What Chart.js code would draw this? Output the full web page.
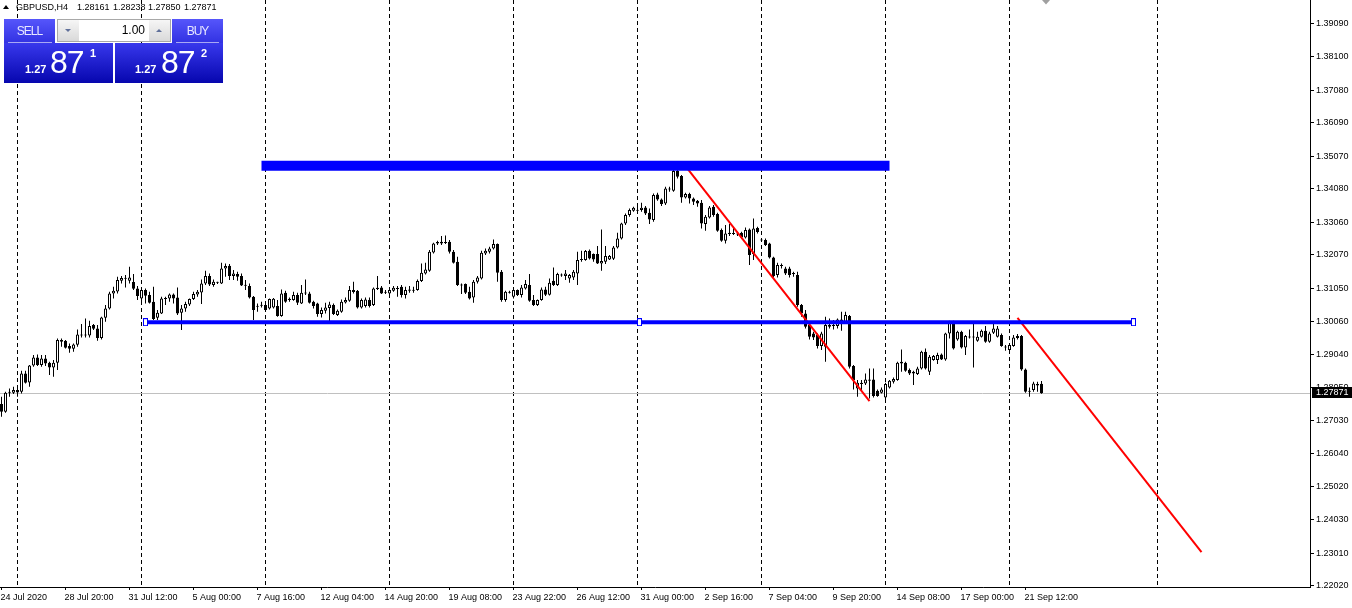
<!DOCTYPE html>
<html>
<head>
<meta charset="utf-8">
<script src="https://cdn.jsdelivr.net/npm/chart.js@4.4.1/dist/chart.umd.min.js"></script>
<style>
html, body { margin: 0; padding: 0; background: #fff; }
#wrap { position: relative; width: 1352px; height: 608px; overflow: hidden; font-family: "Liberation Sans", Arial, sans-serif; }
#c { position: absolute; left: 0; top: 0; }
.t { position: absolute; white-space: pre; line-height: 1; }
.hdr { font-size: 9px; color: #000; top: 3px; }
#tri { position: absolute; left: 3px; top: 5px; width: 0; height: 0; border-left: 3px solid transparent; border-right: 3px solid transparent; border-bottom: 4px solid #000; }
.btn { position: absolute; top: 19px; width: 51px; height: 24px; line-height: 24px; text-align: center; font-size: 12px; letter-spacing: -1px; color: #e8e8ff; background: linear-gradient(#5656fb, #3232e2); }
.sep { position: absolute; top: 42px; height: 1px; background: #a8a8f4; }
.pbox { position: absolute; top: 43px; height: 40px; background: linear-gradient(#3838ec, #0606ae); }
#lot { position: absolute; left: 57px; top: 19px; width: 114px; height: 23px; box-sizing: border-box; border: 1px solid #a8a8a8; background: #fff; }
.spin { position: absolute; top: 0; width: 21px; height: 21px; background: linear-gradient(#f6f6f6, #d9d9d9); }
.dn { position: absolute; left: 7px; top: 9px; width: 0; height: 0; border-left: 3px solid transparent; border-right: 3px solid transparent; border-top: 3px solid #60709a; }
.up { position: absolute; left: 7px; top: 9px; width: 0; height: 0; border-left: 3px solid transparent; border-right: 3px solid transparent; border-bottom: 3px solid #60709a; }
.w { color: #fff; }
.sm { font-size: 11px; font-weight: bold; }
.big { font-size: 32px; letter-spacing: -1px; }
</style>
</head>
<body>
<div id="wrap">
<canvas id="c" width="1352" height="608"></canvas>

<div id="tri"></div>
<span class="t hdr" style="left:16px">GBPUSD,H4</span>
<span class="t hdr" style="left:77px">1.28161</span>
<span class="t hdr" style="left:113px">1.28238</span>
<span class="t hdr" style="left:148px">1.27850</span>
<span class="t hdr" style="left:184px">1.27871</span>

<div class="btn" style="left:4px">SELL</div>
<div class="btn" style="left:172px">BUY</div>
<div id="lot">
  <div class="spin" style="left:0"><div class="dn"></div></div>
  <span class="t" style="right:25px;top:4px;font-size:12px;color:#000">1.00</span>
  <div class="spin" style="right:0"><div class="up"></div></div>
</div>
<div class="sep" style="left:8px;width:44px"></div>
<div class="sep" style="left:176px;width:43px"></div>
<div class="pbox" style="left:4px;width:109px"></div>
<div class="pbox" style="left:115px;width:108px"></div>
<span class="t w sm" style="left:25px;top:64px">1.27</span>
<span class="t w big" style="left:50px;top:46px">87</span>
<span class="t w sm" style="left:90px;top:48px">1</span>
<span class="t w sm" style="left:135px;top:64px">1.27</span>
<span class="t w big" style="left:161px;top:46px">87</span>
<span class="t w sm" style="left:201px;top:48px">2</span>
</div>

<script>
// GBPUSD H4, one entry per bar (bar 0 = 24 Jul 2020)
var opens = [
  1.27539,1.27306,1.27883,1.27883,1.27964,1.27914,1.28471,1.28197,1.28714,1.28957,
  1.28724,1.28927,1.28795,1.28653,1.28795,1.29433,1.29464,1.29302,1.29221,1.29342,
  1.29656,1.29626,1.29626,1.29940,1.29838,1.29545,1.30163,1.30446,1.30902,1.30963,
  1.31287,1.31368,1.31287,1.31247,1.31054,1.30750,1.31003,1.30851,1.30649,1.30163,
  1.30295,1.30750,1.30750,1.30872,1.30780,1.30315,1.30446,1.30568,1.30730,1.30872,
  1.30933,1.31206,1.31429,1.31155,1.31257,1.31206,1.31662,1.31743,1.31429,1.31490,
  1.31429,1.31155,1.31125,1.30801,1.30497,1.30527,1.30547,1.30446,1.30477,1.30517,
  1.30213,1.30923,1.30700,1.30700,1.30852,1.30598,1.30923,1.30902,1.30649,1.30598,
  1.30274,1.30376,1.30457,1.30548,1.30244,1.30345,1.30629,1.30680,1.31004,1.30983,
  1.30477,1.30517,1.30700,1.30548,1.31034,1.31085,1.30953,1.30902,1.30983,1.31064,
  1.31105,1.30852,1.30983,1.31004,1.31004,1.31277,1.31510,1.31591,1.32148,1.32422,
  1.32422,1.32462,1.32473,1.32169,1.31865,1.31176,1.31186,1.30953,1.30781,1.31257,
  1.31358,1.32118,1.32169,1.32270,1.32402,1.31561,1.30700,1.30953,1.30801,1.31004,
  1.30852,1.31055,1.31156,1.30700,1.30548,1.30700,1.31025,1.30862,1.31288,1.31156,
  1.31450,1.31430,1.31359,1.31389,1.31511,1.31916,1.31916,1.32200,1.32098,1.32098,
  1.31815,1.31865,1.31936,1.31957,1.32301,1.32574,1.33030,1.33284,1.33415,1.33436,
  1.33436,1.33517,1.33354,1.33132,1.33911,1.33760,1.33638,1.34064,1.34023,1.34621,
  1.34469,1.33820,1.33922,1.33790,1.33719,1.33658,1.33010,1.33213,1.33537,1.33314,
  1.32828,1.32504,1.32706,1.32726,1.32726,1.32747,1.32604,1.32847,1.32098,1.32888,
  1.32544,1.32523,1.32422,1.31997,1.31460,1.31733,1.31662,1.31662,1.31510,1.31460,
  1.30548,1.30295,1.29940,1.29687,1.29636,1.29302,1.29282,1.29940,1.29910,1.29910,
  1.30113,1.29991,1.30214,1.28694,1.28016,1.28147,1.28167,1.28249,1.28289,1.27945,
  1.27884,1.27742,1.28046,1.28218,1.28269,1.28775,1.28796,1.28573,1.28522,1.28451,
  1.28623,1.29130,1.28522,1.28877,1.28877,1.29049,1.28897,1.29687,1.30042,1.29505,
  1.29738,1.29262,1.29565,1.29586,1.29464,1.29586,1.29768,1.29434,1.29707,1.29586,
  1.29636,1.29282,1.29181,1.29302,1.29545,1.29606,1.28593,1.27914,1.27965,1.28147,
  1.28161
];
var highs = [
  1.27762,1.27914,1.28015,1.28066,1.28116,1.28552,1.28552,1.28724,1.29028,1.29048,
  1.29028,1.29028,1.28825,1.28876,1.29535,1.29535,1.29484,1.29383,1.29383,1.29808,
  1.29970,1.30142,1.30071,1.29970,1.29940,1.30193,1.30547,1.30953,1.31105,1.31409,
  1.31429,1.31459,1.31712,1.31490,1.31125,1.31054,1.31054,1.30953,1.31105,1.30396,
  1.30801,1.30801,1.30902,1.30902,1.31084,1.30547,1.30649,1.30750,1.30953,1.31003,
  1.31328,1.31591,1.31510,1.31328,1.31257,1.31834,1.31814,1.31794,1.31611,1.31561,
  1.31510,1.31307,1.31206,1.30821,1.30598,1.30649,1.30598,1.30750,1.30761,1.30700,
  1.31024,1.30983,1.30781,1.30953,1.30923,1.31156,1.31328,1.30953,1.30680,1.30619,
  1.30477,1.30619,1.30649,1.30598,1.30416,1.30720,1.30781,1.31125,1.31257,1.31004,
  1.30750,1.30781,1.30781,1.31085,1.31429,1.31125,1.31004,1.31054,1.31125,1.31125,
  1.31156,1.31105,1.31125,1.31105,1.31328,1.31814,1.31834,1.32219,1.32442,1.32503,
  1.32645,1.32665,1.32523,1.32219,1.32017,1.31206,1.31206,1.31105,1.31307,1.31429,
  1.32199,1.32270,1.32321,1.32543,1.32422,1.31611,1.30983,1.30983,1.31054,1.31024,
  1.31156,1.31308,1.31491,1.30852,1.30721,1.31085,1.31106,1.31359,1.31693,1.31531,
  1.31511,1.31612,1.31491,1.31612,1.32169,1.32200,1.32220,1.32240,1.32119,1.32342,
  1.32848,1.32342,1.32068,1.32342,1.32747,1.33051,1.33334,1.33486,1.33537,1.33537,
  1.33658,1.33557,1.33486,1.33942,1.33962,1.33790,1.34145,1.34145,1.34671,1.34833,
  1.34499,1.33962,1.33962,1.33820,1.33739,1.33739,1.33284,1.33557,1.33587,1.33354,
  1.32878,1.32980,1.33010,1.32929,1.32777,1.32777,1.32908,1.32878,1.33182,1.32929,
  1.32574,1.32574,1.32442,1.32017,1.31834,1.31814,1.31713,1.31713,1.31561,1.31561,
  1.30578,1.30396,1.29991,1.29738,1.29687,1.29738,1.30194,1.30143,1.30092,1.30143,
  1.30345,1.30345,1.30244,1.28725,1.28269,1.28269,1.28472,1.28623,1.28623,1.27985,
  1.28046,1.28188,1.28269,1.28350,1.28826,1.29201,1.28826,1.28623,1.28553,1.28674,
  1.29160,1.29231,1.29029,1.29029,1.29100,1.29079,1.29707,1.30072,1.30072,1.29768,
  1.29768,1.29636,1.29809,1.29971,1.29738,1.29809,1.29910,1.29738,1.29971,1.29910,
  1.29687,1.29333,1.29383,1.29636,1.29667,1.29636,1.28623,1.28046,1.28218,1.28218,
  1.28238
];
var lows = [
  1.27154,1.27276,1.27762,1.27843,1.27762,1.27863,1.28167,1.28066,1.28674,1.28694,
  1.28674,1.28694,1.28420,1.28370,1.28572,1.29281,1.29231,1.29099,1.29129,1.29281,
  1.29565,1.29565,1.29565,1.29788,1.29464,1.29504,1.30041,1.30416,1.30750,1.30902,
  1.31206,1.31084,1.31206,1.31003,1.30699,1.30649,1.30598,1.30598,1.30092,1.30092,
  1.30274,1.30547,1.30649,1.30598,1.30244,1.29788,1.30345,1.30517,1.30699,1.30801,
  1.30578,1.31155,1.31125,1.31105,1.31186,1.31186,1.31409,1.31307,1.31307,1.31287,
  1.31125,1.31003,1.30750,1.30092,1.30345,1.30477,1.30376,1.30416,1.30446,1.30193,
  1.30193,1.30619,1.30649,1.30680,1.30548,1.30578,1.30852,1.30598,1.30446,1.30193,
  1.30173,1.30294,1.30062,1.30244,1.30213,1.30315,1.30598,1.30649,1.30902,1.30446,
  1.30446,1.30477,1.30477,1.30517,1.31004,1.30882,1.30882,1.30852,1.30953,1.30801,
  1.30781,1.30750,1.30923,1.30923,1.30983,1.31247,1.31480,1.31561,1.32118,1.32371,
  1.32371,1.32402,1.32118,1.31814,1.31125,1.30882,1.30882,1.30720,1.30619,1.31206,
  1.31328,1.32067,1.32118,1.32239,1.31257,1.30649,1.30649,1.30902,1.30750,1.30821,
  1.30781,1.31025,1.30650,1.30518,1.30518,1.30680,1.30822,1.30842,1.31126,1.31126,
  1.31410,1.31308,1.31227,1.31308,1.31156,1.31865,1.31896,1.31936,1.31865,1.31794,
  1.31592,1.31794,1.31916,1.31916,1.32271,1.32544,1.32980,1.33233,1.33385,1.33334,
  1.33385,1.33284,1.33010,1.33081,1.33719,1.33557,1.33587,1.33993,1.33993,1.34398,
  1.33658,1.33790,1.33638,1.33587,1.33537,1.32878,1.32807,1.33182,1.33233,1.32777,
  1.32473,1.32423,1.32645,1.32676,1.32645,1.32564,1.32574,1.31764,1.31916,1.32726,
  1.32473,1.32341,1.31966,1.31389,1.31389,1.31662,1.31460,1.31389,1.31409,1.30497,
  1.30194,1.29839,1.29505,1.29485,1.29231,1.29181,1.28826,1.29839,1.29809,1.29839,
  1.29768,1.29971,1.28623,1.27985,1.27762,1.27914,1.28117,1.27712,1.27742,1.27762,
  1.27864,1.27681,1.28016,1.28167,1.28249,1.28522,1.28522,1.28421,1.28117,1.28421,
  1.28593,1.28593,1.28421,1.28856,1.28755,1.28877,1.28856,1.29535,1.29201,1.29464,
  1.29231,1.29029,1.29535,1.28654,1.29434,1.29565,1.29403,1.29403,1.29667,1.29565,
  1.29282,1.29160,1.29160,1.29282,1.29505,1.28553,1.27884,1.27762,1.27914,1.27914,
  1.27850
];
var closes = [
  1.27306,1.27883,1.27914,1.27964,1.27893,1.28471,1.28187,1.28714,1.28957,1.28724,
  1.28927,1.28775,1.28653,1.28795,1.29484,1.29484,1.29251,1.29221,1.29352,1.29656,
  1.29626,1.29636,1.29909,1.29828,1.29545,1.30173,1.30446,1.30902,1.30983,1.31307,
  1.31368,1.31348,1.31388,1.31044,1.30821,1.31003,1.30831,1.30618,1.30122,1.30315,
  1.30750,1.30730,1.30872,1.30750,1.30295,1.30446,1.30578,1.30730,1.30882,1.30953,
  1.31206,1.31429,1.31176,1.31257,1.31226,1.31662,1.31733,1.31429,1.31510,1.31409,
  1.31145,1.31135,1.30780,1.30396,1.30527,1.30537,1.30396,1.30730,1.30740,1.30213,
  1.30902,1.30649,1.30740,1.30852,1.30619,1.30923,1.30902,1.30619,1.30517,1.30274,
  1.30396,1.30477,1.30568,1.30274,1.30376,1.30649,1.30700,1.31004,1.30943,1.30477,
  1.30700,1.30720,1.30517,1.31054,1.31075,1.30902,1.30923,1.31004,1.31075,1.31034,
  1.30852,1.31004,1.31024,1.30983,1.31277,1.31530,1.31632,1.32169,1.32422,1.32462,
  1.32473,1.32432,1.32169,1.31834,1.31156,1.31145,1.30923,1.30750,1.31257,1.31389,
  1.32138,1.32199,1.32270,1.32402,1.31530,1.30700,1.30953,1.30923,1.31004,1.30852,
  1.31085,1.31187,1.30680,1.30548,1.30700,1.31025,1.30862,1.31227,1.31156,1.31491,
  1.31480,1.31511,1.31460,1.31561,1.31916,1.31936,1.32190,1.31967,1.31936,1.31815,
  1.31886,1.32038,1.32038,1.32301,1.32574,1.33030,1.33284,1.33436,1.33506,1.33415,
  1.33506,1.33334,1.33152,1.33891,1.33760,1.33618,1.34094,1.34094,1.34621,1.34449,
  1.33820,1.33922,1.33790,1.33689,1.33638,1.33030,1.33233,1.33517,1.33284,1.32807,
  1.32504,1.32726,1.32747,1.32706,1.32696,1.32605,1.32827,1.32068,1.32878,1.32766,
  1.32513,1.32371,1.31997,1.31429,1.31764,1.31764,1.31510,1.31460,1.31490,1.30548,
  1.30295,1.29890,1.29586,1.29565,1.29302,1.29687,1.29940,1.29890,1.29940,1.30113,
  1.30042,1.30244,1.28674,1.28269,1.28188,1.28188,1.28289,1.28289,1.27783,1.27783,
  1.27985,1.28147,1.28249,1.28299,1.28796,1.28826,1.28553,1.28471,1.28471,1.28623,
  1.29130,1.28623,1.28978,1.28998,1.29029,1.28897,1.29687,1.30042,1.29231,1.29738,
  1.29262,1.29606,1.29586,1.29565,1.29586,1.29768,1.29434,1.29687,1.29839,1.29839,
  1.29302,1.29262,1.29333,1.29565,1.29606,1.28593,1.27914,1.27935,1.28167,1.28107,
  1.27871
];

// time axis labels (bar index -> text) and dotted grid bars
var labelBars = [0,16,32,48,64,80,96,112,128,144,160,176,192,208,224,240,256];
var labelTexts = ["24 Jul 2020","28 Jul 20:00","31 Jul 12:00","5 Aug 00:00","7 Aug 16:00",
  "12 Aug 04:00","14 Aug 20:00","19 Aug 08:00","23 Aug 22:00","26 Aug 12:00","31 Aug 00:00",
  "2 Sep 16:00","7 Sep 04:00","9 Sep 20:00","14 Sep 08:00","17 Sep 00:00","21 Sep 12:00"];
var gridBars = [4,35,66,97,128,159,190,221,252,289];

// price scale
var priceTicks = [1.22020,1.23010,1.24030,1.25020,1.26040,1.27030,1.28050,1.29040,1.30060,
  1.31050,1.32070,1.33060,1.34080,1.35070,1.36090,1.37080,1.38100,1.39090];
var priceMin = 1.21981, priceMax = 1.39819;
var barMin = -0.375, barMax = 327.125;

// drawn objects: anchors in bars / price
var resistX = [65, 222],         resistY = [1.34779, 1.34779];
var supportX = [36, 159.5, 283], supportY = [1.30030, 1.30030, 1.30030];
var chan1X = [171, 217],         chan1Y = [1.34773, 1.27629];
var chan2X = [254, 300],         chan2Y = [1.30161, 1.23038];

var FONT = '"Liberation Sans", Arial, sans-serif';

function pts(xs, ys) {
  return xs.map(function(x, i) { return { x: x, y: ys[i] }; });
}

var bodies = opens.map(function(o, i) { return { x: i, y: [o, closes[i]] }; });
var wicks = opens.map(function(o, i) { return { x: i, y: [lows[i], highs[i]] }; });
var bodyFill = opens.map(function(o, i) { return closes[i] >= o ? '#ffffff' : '#000000'; });

// selected-object handle (small hollow box)
var handle = document.createElement('canvas');
handle.width = 5; handle.height = 8;
var hc = handle.getContext('2d');
hc.fillStyle = '#ffffff'; hc.fillRect(0, 0, 5, 8);
hc.strokeStyle = '#0000ff'; hc.lineWidth = 1; hc.strokeRect(0.5, 0.5, 4, 7);

var overlay = {
  id: 'overlay',
  beforeDatasetsDraw: function(chart) {
    var ctx = chart.ctx, a = chart.chartArea;
    var py = Math.round(chart.scales.y.getPixelForValue(closes[closes.length - 1])) + 0.5;
    ctx.save();
    ctx.strokeStyle = '#c0c0c0'; ctx.lineWidth = 1;
    ctx.beginPath(); ctx.moveTo(a.left, py); ctx.lineTo(a.right, py); ctx.stroke();
    ctx.restore();
  },
  afterDraw: function(chart) {
    var ctx = chart.ctx, a = chart.chartArea;
    var last = closes.length - 1;
    var py = Math.round(chart.scales.y.getPixelForValue(closes[last]));
    ctx.save();
    ctx.fillStyle = '#000000';
    ctx.fillRect(a.right + 2, py - 6, 42, 11);
    ctx.fillStyle = '#ffffff';
    ctx.font = '9px ' + FONT;
    ctx.textBaseline = 'middle';
    ctx.fillText(closes[last].toFixed(5), a.right + 6, py);
    // chart shift marker
    var sx = chart.scales.x.getPixelForValue(last + 1.125);
    ctx.fillStyle = '#a0a0a0';
    ctx.beginPath(); ctx.moveTo(sx - 4, 0); ctx.lineTo(sx + 4, 0); ctx.lineTo(sx, 4.5); ctx.closePath(); ctx.fill();
    ctx.restore();
  }
};

new Chart(document.getElementById('c'), {
  type: 'bar',
  data: {
    datasets: [
      { type: 'line', data: pts(resistX, resistY), xAxisID: 'x', yAxisID: 'y', borderColor: '#0000ff', borderWidth: 10, borderCapStyle: 'butt', pointRadius: 0, order: 0 },
      { type: 'line', data: pts(supportX, supportY), xAxisID: 'x', yAxisID: 'y', borderColor: '#0000ff', borderWidth: 4, borderCapStyle: 'butt', pointStyle: handle, pointRadius: 3, order: 0 },
      { type: 'line', data: pts(chan1X, chan1Y), xAxisID: 'x', yAxisID: 'y', borderColor: '#ff0000', borderWidth: 2, pointRadius: 0, order: 0 },
      { type: 'line', data: pts(chan2X, chan2Y), xAxisID: 'x', yAxisID: 'y', borderColor: '#ff0000', borderWidth: 2, pointRadius: 0, order: 0 },
      { type: 'bar', data: bodies, xAxisID: 'x', yAxisID: 'y', backgroundColor: bodyFill, borderColor: '#000000', borderWidth: 1, borderSkipped: false,
        barThickness: 3, grouped: false, minBarLength: 1, inflateAmount: 0, order: 1 },
      { type: 'bar', data: wicks, xAxisID: 'x', yAxisID: 'y', backgroundColor: '#000000', borderWidth: 0,
        barThickness: 1, grouped: false, inflateAmount: 0, order: 2 }
    ]
  },
  options: {
    responsive: false,
    maintainAspectRatio: false,
    devicePixelRatio: 1,
    animation: false,
    events: [],
    layout: { padding: 0, autoPadding: false },
    plugins: { legend: { display: false }, tooltip: { enabled: false } },
    scales: {
      x: {
        type: 'linear', position: 'bottom', min: barMin, max: barMax, offset: false, bounds: 'data',
        afterBuildTicks: function(s) { s.ticks = labelBars.map(function(v) { return { value: v }; }); },
        afterFit: function(s) { s.height = 21; s.paddingLeft = 0; s.paddingRight = 0; },
        ticks: {
          autoSkip: false, maxRotation: 0, minRotation: 0, align: 'start', labelOffset: -1, padding: 2,
          color: '#000000', font: { family: FONT, size: 9 },
          callback: function(v) { var k = labelBars.indexOf(v); return k < 0 ? '' : labelTexts[k]; }
        },
        grid: { drawOnChartArea: false, drawTicks: true, tickLength: 3, color: '#000000', offset: false },
        border: { display: true, color: '#000000', width: 1 }
      },
      xg: {
        type: 'linear', position: 'top', min: barMin, max: barMax, offset: false, bounds: 'data',
        afterBuildTicks: function(s) { s.ticks = gridBars.map(function(v) { return { value: v }; }); },
        afterFit: function(s) { s.height = 0; s.paddingLeft = 0; s.paddingRight = 0; },
        ticks: { display: false },
        grid: { color: '#000000', lineWidth: 1, drawTicks: false, offset: false, borderDash: [4, 3] },
        border: { display: false, dash: [4, 3] }
      },
      y: {
        type: 'linear', position: 'right', min: priceMin, max: priceMax, bounds: 'data',
        afterBuildTicks: function(s) { s.ticks = priceTicks.map(function(v) { return { value: v }; }); },
        afterFit: function(s) { s.width = 42; s.paddingTop = 0; s.paddingBottom = 0; },
        ticks: {
          autoSkip: false, padding: 2, color: '#000000', font: { family: FONT, size: 9 },
          callback: function(v) { return v.toFixed(5); }
        },
        grid: { drawOnChartArea: false, tickLength: 4, color: '#000000' },
        border: { display: true, color: '#000000', width: 1 }
      }
    }
  },
  plugins: [overlay]
});
</script>
</body>
</html>
